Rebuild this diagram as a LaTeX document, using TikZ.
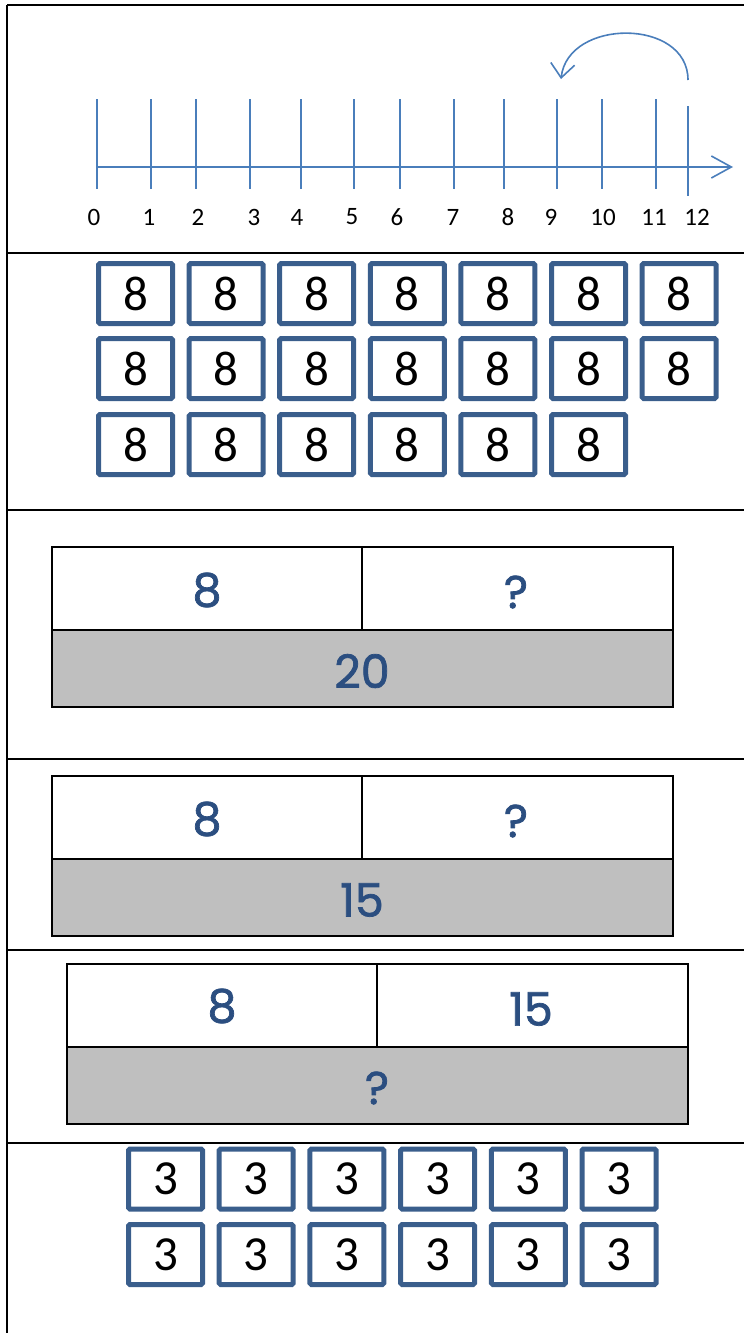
\documentclass[tikz,border=0pt]{standalone}
\usepackage{fontspec}
\setmainfont{Carlito}
\newfontfamily\kidfont[FakeBold=1.6]{Poppins}
\usetikzlibrary{arrows.meta}
\definecolor{nlblue}{HTML}{4A7EBB}
\definecolor{boxblue}{HTML}{3A5E8C}
\definecolor{txtblue}{HTML}{2B4E80}
\definecolor{barGray}{HTML}{BFBFBF}
\tikzset{
  sep/.style={line width=2.5pt, black},
  tick/.style={nlblue, line width=1.6pt},
  nlab/.style={font=\fontsize{25}{25}\selectfont, text=black, inner sep=0pt},
  numbox/.style={draw=boxblue, line width=5pt, rounded corners=1.5pt, minimum width=74pt, minimum height=60pt, inner sep=0pt, font=\fontsize{49}{49}\selectfont, text=black},
  barcell/.style={draw=black, line width=2.2pt},
  bartxt/.style={font=\kidfont\fontsize{46}{46}\selectfont, text=txtblue, inner sep=0pt},
}
\begin{document}
\begin{tikzpicture}[x=1pt,y=-1pt]
\useasboundingbox (0,0) rectangle (744,1333);
% frame
\draw[sep] (7,5) -- (744,5);
\draw[sep] (7,5) -- (7,1333);
\foreach \yy in {253,510,759,950,1143} \draw[sep] (7,\yy) -- (744,\yy);
% number line
\coordinate (nlstart) at (97,167);
\coordinate (nlend) at (733,167);
\draw[tick, -{Straight Barb[length=20pt,width=22pt,line width=1.6pt]}] (nlstart) -- (nlend);
\foreach \xx in {97,151,196,250,301,354,400,454,504,557,602,656} \draw[tick] (\xx,99) -- (\xx,189);
\draw[tick] (688,106) -- (688,196);
\foreach \xx/\lab in {94/0,149/1,198/2,254/3,297/4,352/5,397/6,453/7,508/8,551/9,603/10,654/11,697/12}
  \node[nlab] (lab\lab) at (\xx,217) {\lab};
\coordinate (arcA) at (688,80);
\coordinate (arcB) at (561,79);
\draw[tick, -{Straight Barb[length=14pt,width=24pt,line width=1.6pt]}] (arcA) .. controls (688,18) and (568,18) .. (arcB);
% boxes of 8
\foreach \r/\yy in {1/293.5,2/368.5} {
  \foreach \c in {0,...,6} {
    \node[numbox] (e\r\c) at ({135.5+90.6*\c},\yy) {8};
  }
}
\foreach \c in {0,...,5} {
  \node[numbox] (e3\c) at ({135.5+90.6*\c},444.5) {8};
}
% bar model 1
\fill[barGray] (52,630) rectangle (673,707);
\draw[barcell] (52,547) rectangle (673,707);
\draw[barcell] (52,630) -- (673,630);
\draw[barcell] (362,547) -- (362,630);
\node[bartxt] (a1) at (207,590) {8};
\node[bartxt] (a2) at (516,592) {?};
\node[bartxt] (a3) at (362,671) {20};
% bar model 2
\fill[barGray] (52,859) rectangle (673,936);
\draw[barcell] (52,776) rectangle (673,936);
\draw[barcell] (52,859) -- (673,859);
\draw[barcell] (362,776) -- (362,859);
\node[bartxt] (b1) at (207,819) {8};
\node[bartxt] (b2) at (516,821) {?};
\node[bartxt] (b3) at (362,900) {15};
% bar model 3
\fill[barGray] (67,1047) rectangle (688,1124);
\draw[barcell] (67,964) rectangle (688,1124);
\draw[barcell] (67,1047) -- (688,1047);
\draw[barcell] (377,964) -- (377,1047);
\node[bartxt] (c1) at (222,1006) {8};
\node[bartxt] (c2) at (531,1009) {15};
\node[bartxt] (c3) at (377,1088) {?};
% boxes of 3
\foreach \r/\yy in {1/1179,2/1254.5} {
  \foreach \c in {0,...,5} {
    \node[numbox] (t\r\c) at ({165.5+90.7*\c},\yy) {3};
  }
}
\end{tikzpicture}
\end{document}
